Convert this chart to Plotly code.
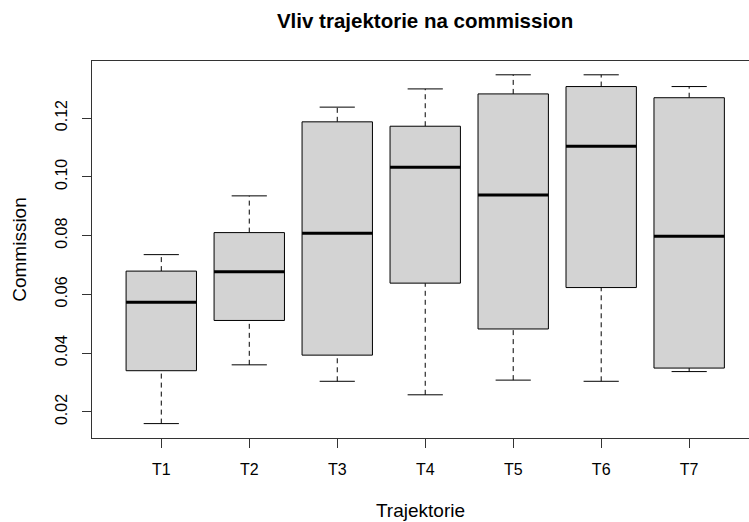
import plotly.graph_objects as go

# five-number summaries
categories = ["T1", "T2", "T3", "T4", "T5", "T6", "T7"]
lower = [0.0160, 0.0360, 0.0304, 0.0258, 0.0308, 0.0304, 0.0337]
q1 = [0.0340, 0.0511, 0.0393, 0.0638, 0.0482, 0.0623, 0.0349]
median = [0.0573, 0.0677, 0.0808, 0.1032, 0.0938, 0.1104, 0.0798]
q3 = [0.0679, 0.0810, 0.1187, 0.1172, 0.1282, 0.1307, 0.1269]
upper = [0.0735, 0.0935, 0.1237, 0.1299, 0.1347, 0.1347, 0.1307]

y_ticks = [0.02, 0.04, 0.06, 0.08, 0.10, 0.12]

half_box = 0.4
half_cap = 0.2
xs = list(range(1, len(categories) + 1))

wx, wy, cx, cy, mx, my = [], [], [], [], [], []
for i, x in enumerate(xs):
    wx += [x, x, None, x, x, None]
    wy += [q3[i], upper[i], None, lower[i], q1[i], None]
    cx += [x - half_cap, x + half_cap, None, x - half_cap, x + half_cap, None]
    cy += [upper[i], upper[i], None, lower[i], lower[i], None]
    mx += [x - half_box, x + half_box, None]
    my += [median[i], median[i], None]

fig = go.Figure()
fig.add_trace(go.Scatter(x=wx, y=wy, mode="lines", line=dict(color="black", width=1, dash="5px,4px"),
                         hoverinfo="skip"))
fig.add_trace(go.Scatter(x=cx, y=cy, mode="lines", line=dict(color="black", width=1), hoverinfo="skip"))
for i, x in enumerate(xs):
    fig.add_trace(go.Scatter(
        x=[x - half_box, x + half_box, x + half_box, x - half_box, x - half_box],
        y=[q1[i], q1[i], q3[i], q3[i], q1[i]],
        mode="lines", fill="toself", fillcolor="#D3D3D3",
        line=dict(color="black", width=1), name=categories[i]))
fig.add_trace(go.Scatter(x=mx, y=my, mode="lines", line=dict(color="black", width=3), hoverinfo="skip"))

font = "Liberation Sans, Arial, sans-serif"
fig.update_layout(
    width=749, height=522,
    margin=dict(l=92, r=0, t=61, b=84),
    plot_bgcolor="white", paper_bgcolor="white",
    showlegend=False,
    font=dict(family=font, size=16, color="black"),
    title=dict(text="<b>Vliv trajektorie na commission</b>", x=0.5675, xanchor="center",
               y=0.96, yanchor="middle", font=dict(size=20.5)),
    xaxis=dict(range=[0.2125, 7.68], tickvals=xs, ticktext=categories,
               showgrid=False, zeroline=False, showline=True, mirror=True,
               linecolor="#333", linewidth=1, ticks="outside", ticklen=9,
               tickcolor="#333", ticklabelstandoff=8, automargin=False,
               title=dict(text="Trajektorie", standoff=26)),
    yaxis=dict(range=[0.0111, 0.1394], tickvals=y_ticks,
               ticktext=["0.02", "0.04", "0.06", "0.08", "0.10", "0.12"],
               tickangle=-90, showgrid=False, zeroline=False, showline=True,
               linecolor="#333", linewidth=1, ticks="outside", ticklen=9,
               tickcolor="#333", ticklabelstandoff=9, automargin=False,
               title=dict(text="Commission", standoff=20)),
)

# drop the browser's default body margin so the figure sits at the window corner
fig.write_html("out.html", config={"displayModeBar": False},
               post_script="document.body.style.margin='0';")
